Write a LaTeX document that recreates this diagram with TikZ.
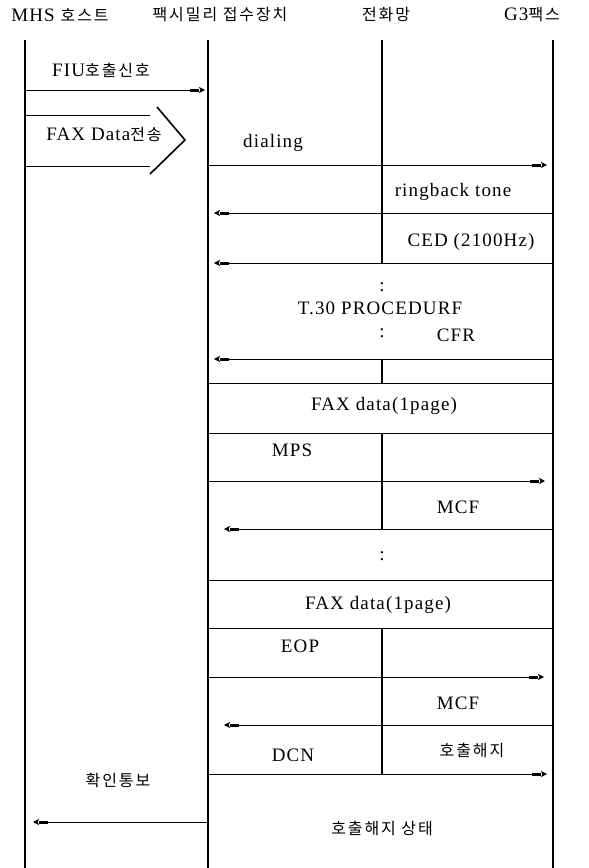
\documentclass[tikz,border=0pt]{standalone}
\usepackage{fontspec}
\setmainfont[LetterSpace=6]{Liberation Serif}
\newfontfamily\kr[LetterSpace=12]{Noto Sans CJK KR}
\usetikzlibrary{arrows.meta}
\newcommand{\krs}{\kr\fontsize{16}{18}\selectfont}
\begin{document}
\begin{tikzpicture}[x=1pt,y=-1pt,
  life/.style={line width=1.3pt},
  hline/.style={line width=0.8pt},
  % message arrows are drawn from the tip end back to the sender
  msg/.style={line width=0.8pt,shorten <=#1,
    dash pattern=on 0pt off 7pt on 3000pt,
    {Stealth[length=6pt,width=6pt,inset=1.5pt]Rectangle[length=9pt,width=2.6pt]}-},
  msg/.default=6pt,
  lbl/.style={font=\fontsize{19}{21}\selectfont, inner sep=0pt},
  klbl/.style={font=\krs, inner sep=0pt},
  chev/.style={line width=1.6pt}]
\useasboundingbox (0,0) rectangle (589,868);
% lifeline tops and bottoms
\coordinate (A) at (25,40);  \coordinate (Ab) at (25,868);
\coordinate (B) at (208,40); \coordinate (Bb) at (208,868);
\coordinate (C) at (382,40);
\coordinate (D) at (553,40); \coordinate (Db) at (553,868);
% headers
\node[lbl] (hA) at (60,15) {MHS {\krs 호스트}};
\node[klbl] (hB) at (220,15) {팩시밀리 접수장치};
\node[klbl] (hC) at (386,15) {전화망};
\node[lbl] (hD) at (532,15) {G3{\krs 팩스}};
% lifelines
\draw[life] (A) -- (Ab);
\draw[life] (B) -- (Bb);
\draw[life] (D) -- (Db);
\draw[life] (C) -- (C |- 0,263);
\draw[life] (C |- 0,359) -- (C |- 0,383);
\draw[life] (C |- 0,433) -- (C |- 0,529);
\draw[life] (C |- 0,628) -- (C |- 0,774);
% left part
\node[lbl] (fiu) at (101,70) {FIU{\krs 호출신호}};
\draw[msg=3pt] (B |- 0,90) -- (A |- 0,90);
\coordinate (c1) at (150,115); \coordinate (c2) at (150,166);
\draw[hline] (A |- c1) -- (c1);
\draw[hline] (A |- c2) -- (c2);
\coordinate (ch1) at (157,107); \coordinate (ch2) at (185,140); \coordinate (ch3) at (150,174);
\draw[chev] (ch1) -- (ch2) -- (ch3);
\node[lbl] (fd) at (104,134) {FAX Data{\krs 전송}};
% dialing etc.
\node[lbl] (dial) at (273,143) {dialing};
\draw[msg] (D |- 0,165) -- (B |- 0,165);
\node[lbl] (rb) at (453,192) {ringback tone};
\draw[msg] (B |- 0,213) -- (D |- 0,213);
\node[lbl] (ced) at (471,242) {CED (2100Hz)};
\draw[msg] (B |- 0,263) -- (D |- 0,263);
\node[lbl] (d1) at (382,287) {:};
\node[lbl] (t30) at (380,308) {T.30 PROCEDURF};
\node[lbl] (d2) at (382,333) {:};
\node[lbl] (cfr) at (456,335) {CFR};
\draw[msg] (B |- 0,359) -- (D |- 0,359);
\draw[hline] (B |- 0,383) -- (D |- 0,383);
\node[lbl] (fax1) at (384,406) {FAX data(1page)};
\draw[hline] (B |- 0,433) -- (D |- 0,433);
\node[lbl] (mps) at (292,450) {MPS};
\draw[msg=8pt] (D |- 0,481) -- (B |- 0,481);
\node[lbl] (mcf1) at (458,507) {MCF};
\draw[msg=16pt] (B |- 0,529) -- (D |- 0,529);
\node[lbl] (d3) at (382,556) {:};
\draw[hline] (B |- 0,580) -- (D |- 0,580);
\node[lbl] (fax2) at (378,605) {FAX data(1page)};
\draw[hline] (B |- 0,628) -- (D |- 0,628);
\node[lbl] (eop) at (300,646) {EOP};
\draw[msg=9pt] (D |- 0,677) -- (B |- 0,677);
\node[lbl] (mcf2) at (458,703) {MCF};
\draw[msg=16pt] (B |- 0,725) -- (D |- 0,725);
\node[lbl] (dcn) at (293,755) {DCN};
\node[klbl] (rel) at (472,750) {호출해지};
\draw[msg] (D |- 0,774) -- (B |- 0,774);
\node[klbl] (conf) at (118,780) {확인통보};
\draw[msg=8pt] (A |- 0,822) -- (B |- 0,822);
\node[klbl] (state) at (382,828) {호출해지 상태};
\end{tikzpicture}
\end{document}
